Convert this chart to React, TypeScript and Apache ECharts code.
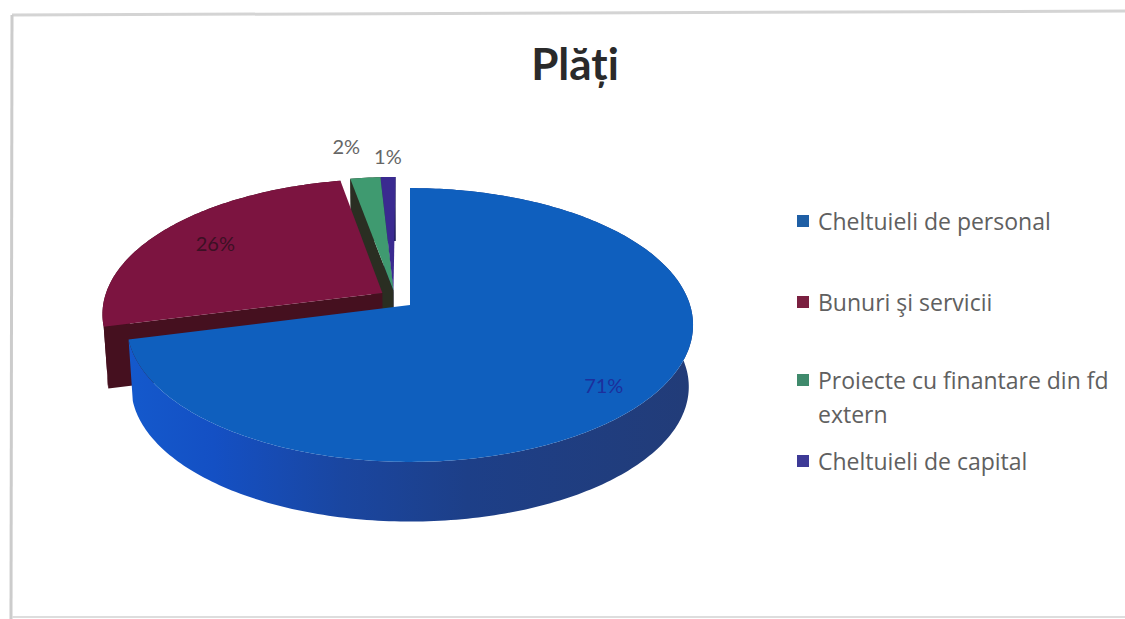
import React, { useEffect, useRef } from "react";
import * as echarts from "echarts";

const categories = ["Cheltuieli de personal", "Bunuri și servicii", "Proiecte cu finantare din fd extern", "Cheltuieli de capital"];
const legendLines = [["Cheltuieli de personal"], ["Bunuri şi servicii"], ["Proiecte cu finantare din fd", "extern"], ["Cheltuieli de capital"]];
const values = [71, 26, 2, 1];
const labels = ["71%", "26%", "2%", "1%"];
const topColors = ["#0f5fbe", "#7c1440", "#3f9a70", "#3a2a90"];
const legendColors = ["#1f5fa5", "#7a2040", "#3f8a6c", "#3d3a96"];
const faceColors = ["#123f90", "#45101f", "#2a2e22", "#1a1a50"];

// perspective projection of the pie disc onto the page
const X0 = 410, Y0 = 305, RX = 280, RY = 134, A = 0.146, DEPTH = 62, SHRINK = 0.985;
const explode = [[0, 0], [-0.1, -0.09], [-0.06, -0.11], [-0.06, -0.11]];
const labelRadius = [0.82, 0.76, 1.34, 1.22];
const labelShift = [-2, 7, -1, 0, -11, 0, 1, 0];
const labelColors = ["#1c2f9c", "#3c1024", "#666666", "#666666"];
const total = values.reduce((a, b) => a + b, 0);

function proj(u: number, v: number, bottom = false) {
  const w = 1 - A * v;
  const s = bottom ? SHRINK : 1;
  return [X0 + (RX * u * s) / w, Y0 + (RY * v * s) / w + (bottom ? DEPTH : 0)];
}
function rim(theta: number, e: number[], r = 1) {
  return [e[0] + r * Math.sin(theta), e[1] - r * Math.cos(theta)];
}
function arc(a0: number, a1: number, e: number[], bottom = false) {
  const n = Math.max(2, Math.ceil(((a1 - a0) * 180) / Math.PI));
  const out: number[][] = [];
  for (let i = 0; i <= n; i++) {
    const t = a0 + ((a1 - a0) * i) / n;
    const p = rim(t, e);
    out.push(proj(p[0], p[1], bottom));
  }
  return out;
}

function renderSlice(params: any, api: any) {
  const i = params.dataIndex;
  const before = values.slice(0, i).reduce((a, b) => a + b, 0);
  const a0 = (before / total) * Math.PI * 2;
  const a1 = a0 + (api.value(0) / total) * Math.PI * 2;
  const e = explode[i];
  const base = (4 - i) * 10 + (i === 3 ? -10 : 0);
  const children: any[] = [];
  const apexT = proj(e[0], e[1]);
  const apexB = proj(e[0], e[1], true);
  // outer wall
  const wallTop = arc(a0, a1, e);
  const wallBottom = arc(a0, a1, e, true);
  const wallFill = i === 0
    ? new echarts.graphic.LinearGradient(1, 0, 0, 0, [
        { offset: 0, color: "#223c78" },
        { offset: 0.4, color: "#1d3f88" },
        { offset: 0.62, color: "#1a46a0" },
        { offset: 0.85, color: "#1450c4" },
        { offset: 1, color: "#1459cc" },
      ])
    : faceColors[i];
  children.push({ type: "polygon", z2: base, shape: { points: [...wallTop, ...wallBottom.reverse()] }, style: { fill: wallFill } });
  // cut face at the start of the slice angle (visible for the slices behind the main one)
  if (i > 0) {
    const p = rim(a0, e);
    const r = proj(p[0], p[1]);
    const rb = proj(p[0], p[1], true);
    children.push({ type: "polygon", z2: base + 1, shape: { points: [apexT, r, rb, apexB] }, style: { fill: faceColors[i] } });
  }
  // top
  children.push({ type: "polygon", z2: base + 2, shape: { points: [apexT, ...wallTop] }, style: { fill: topColors[i] } });
  // label
  const mid = (a0 + a1) / 2;
  const lp = rim(mid, e, labelRadius[i]);
  const pos = proj(lp[0], lp[1]);
  children.push({
    type: "text",
    z2: 100,
    style: {
      text: labels[i],
      x: pos[0] + labelShift[i * 2],
      y: pos[1] + labelShift[i * 2 + 1],
      fill: labelColors[i],
      font: "20px Lato",
      align: "center",
      verticalAlign: "middle",
    },
  });
  return { type: "group", children };
}

export default function App() {
  const ref = useRef<HTMLDivElement>(null);
  useEffect(() => {
    const chart = echarts.init(ref.current!, null, { renderer: "svg" });
    const legendY = [221, 302, 380, 461];
    const graphic: any[] = [
      { type: "line", shape: { x1: 12, y1: 15, x2: 1125, y2: 11 }, style: { stroke: "#d4d4d4", lineWidth: 3 } },
      { type: "line", shape: { x1: 12, y1: 15, x2: 11, y2: 619 }, style: { stroke: "#cccccc", lineWidth: 3 } },
      { type: "line", shape: { x1: 12, y1: 617, x2: 1125, y2: 617 }, style: { stroke: "#dddddd", lineWidth: 2 } },
    ];
    legendLines.forEach((lines, i) => {
      graphic.push({ type: "rect", shape: { x: 797, y: legendY[i] - 6, width: 12, height: 12 }, style: { fill: legendColors[i] } });
      lines.forEach((line, k) => {
        graphic.push({
          type: "text",
          style: { text: line, x: 818, y: legendY[i] + k * 34, fill: "#606060", font: "23px 'Open Sans'", verticalAlign: "middle", align: "left" },
        });
      });
    });
    chart.setOption({
      animation: false,
      backgroundColor: "#ffffff",
      title: {
        text: "Plăți",
        left: 570,
        top: 36,
        textAlign: "center",
        textStyle: { fontFamily: "Lato", fontSize: 44, fontWeight: "bold", color: "#2a2a2a" },
      },
      graphic,
      series: [
        {
          type: "custom",
          coordinateSystem: "none",
          silent: true,
          renderItem: renderSlice,
          data: values.map((v, i) => ({ name: categories[i], value: [v] })),
          encode: { value: 0 },
        },
      ],
    });
    return () => chart.dispose();
  }, []);
  return <div ref={ref} style={{ position: "absolute", left: 0, top: 0, width: 1125, height: 619 }} />;
}
